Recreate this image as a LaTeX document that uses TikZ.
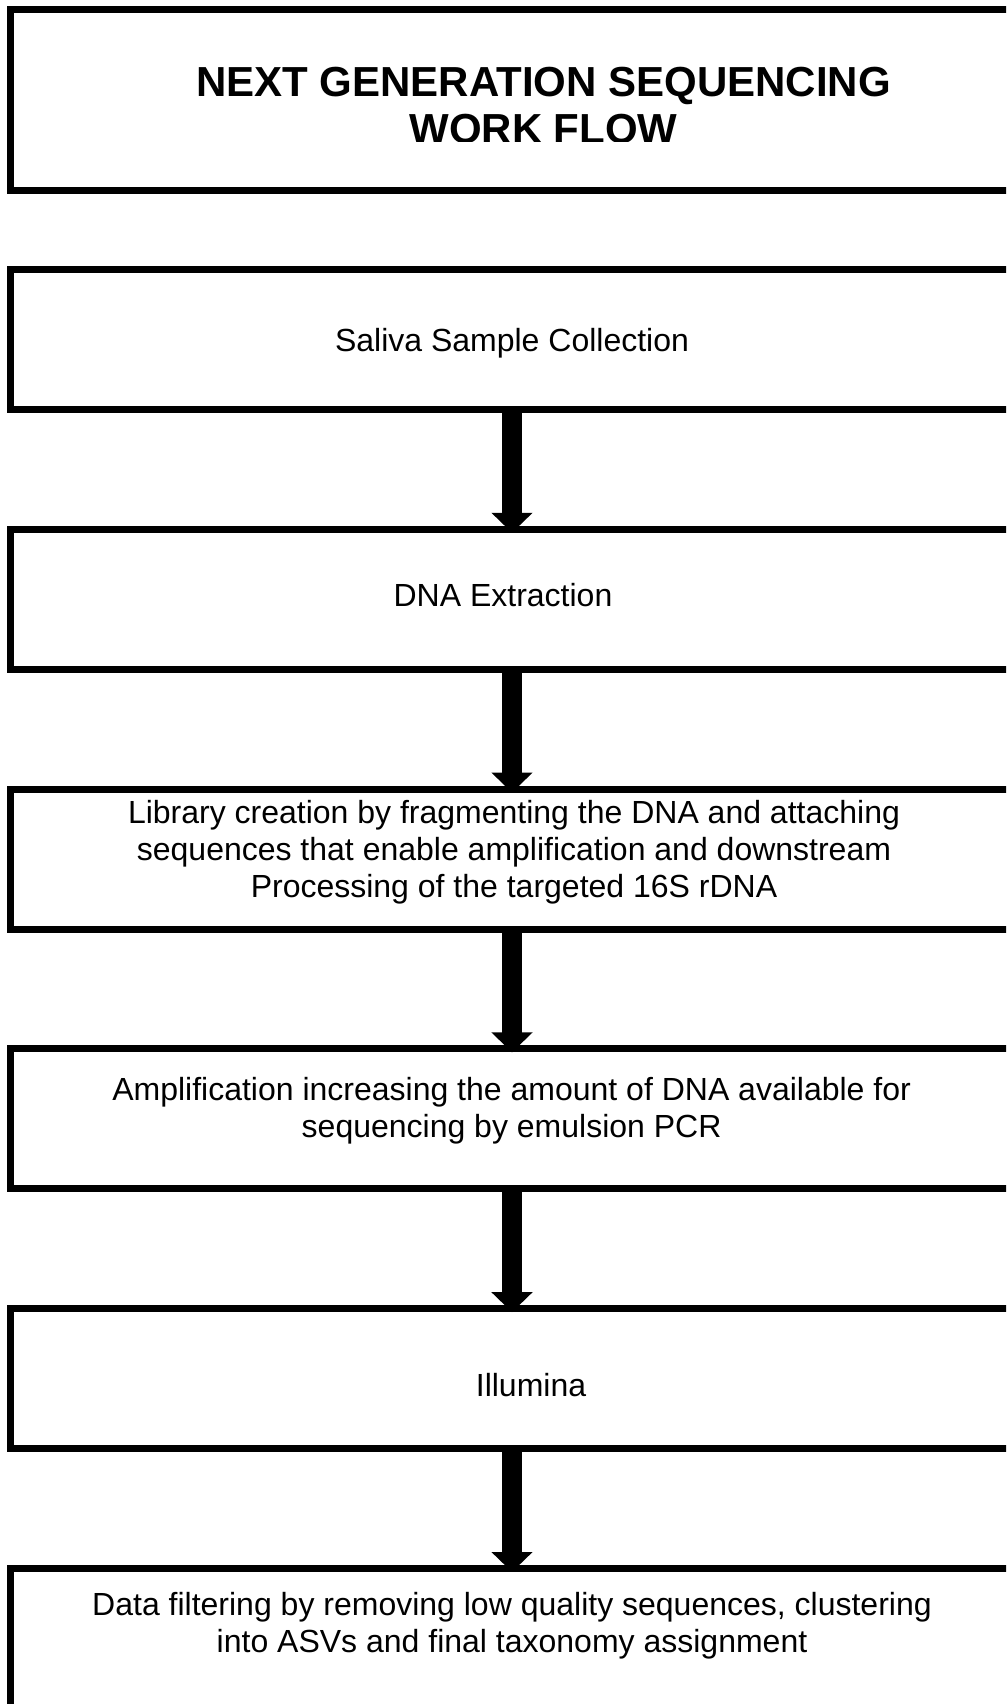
\documentclass[tikz,border=0pt]{standalone}
\usepackage{fontspec}
\setmainfont{Liberation Sans}
\usetikzlibrary{arrows.meta}
\begin{document}
\begin{tikzpicture}[x=1pt,y=-1pt,
  stepbox/.style={draw=black,line width=7pt,rectangle,minimum width=1020pt,
    minimum height=140pt,inner sep=0pt,outer sep=0pt},
  % anchor=base sits on the baseline of the last line
  steptext/.style={font=\fontsize{32}{37}\selectfont,align=center,anchor=base,inner sep=0pt},
  titletext/.style={font=\bfseries\fontsize{42}{47.5}\selectfont,align=center,anchor=base,inner sep=0pt},
  flow/.style={line width=20pt,-{Triangle[width=40pt,length=20pt]},shorten >=-3.5pt}
]
\useasboundingbox (0,0) rectangle (1006,1704);
\clip (0,0) rectangle (1006,1704);

% title frame
\node[stepbox,minimum height=181.5pt] (head) at (520,100.25) {};
\begin{scope}
  \clip (0,0) rectangle (1006,142);
  \node[titletext] (headtext) at (543.5,144) {NEXT GENERATION SEQUENCING\\WORK FLOW};
\end{scope}

% workflow steps
\node[stepbox] (s0) at (520,339.5) {};
\node[stepbox] (s1) at (520,599.3) {};
\node[stepbox] (s2) at (520,859.1) {};
\node[stepbox] (s3) at (520,1118.9) {};
\node[stepbox] (s4) at (520,1378.7) {};
\node[stepbox,minimum height=240pt] (s5) at (520,1688.5) {};

\node[steptext] (t0) at (512,351.5) {Saliva Sample Collection};
\node[steptext] (t1) at (503,606) {DNA Extraction};
\node[steptext] (t2) at (514,897) {Library creation by fragmenting the DNA and attaching\\sequences that enable amplification and downstream\\Processing of the targeted 16S rDNA};
\node[steptext] (t3) at (511.6,1137) {Amplification increasing the amount of DNA available for\\sequencing by emulsion PCR};
\node[steptext] (t4) at (531,1396.5) {Illumina};
\node[steptext] (t5) at (512,1652) {Data filtering by removing low quality sequences, clustering\\into ASVs and final taxonomy assignment};

% connectors
\coordinate (ax) at (512,0);
\draw[flow] (s0.south -| ax) -- (s1.north -| ax);
\draw[flow] (s1.south -| ax) -- (s2.north -| ax);
\draw[flow] (s2.south -| ax) -- (s3.north -| ax);
\draw[flow] (s3.south -| ax) -- (s4.north -| ax);
\draw[flow] (s4.south -| ax) -- (s5.north -| ax);
\end{tikzpicture}
\end{document}
